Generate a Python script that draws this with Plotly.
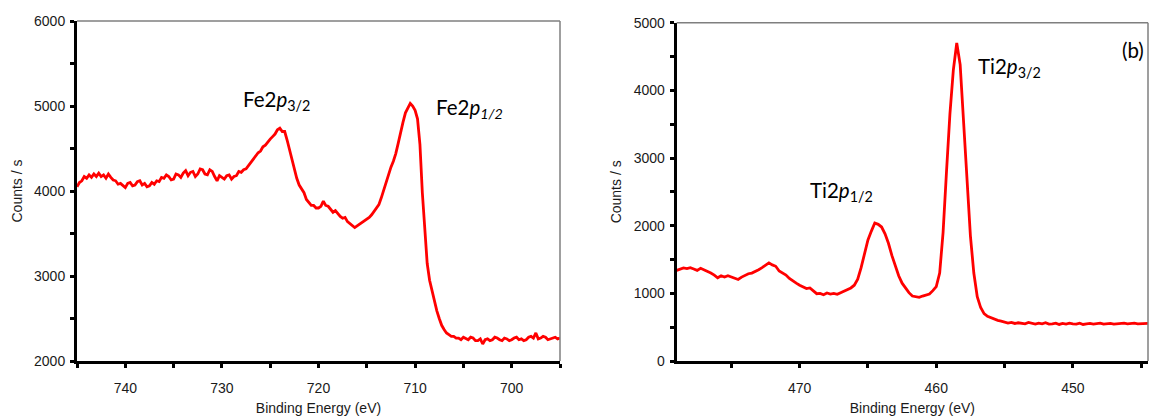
import plotly.graph_objects as go

# ---------------- data ----------------
fe_start, fe_step = 745.0, -0.25
fe_counts = [
    4050, 4100, 4120, 4170,  # 745
    4150, 4190, 4160, 4200,  # 744
    4170, 4210, 4170, 4190,  # 743
    4150, 4200, 4160, 4130,  # 742
    4120, 4080, 4090, 4060,  # 741
    4040, 4090, 4100, 4060,  # 740
    4070, 4110, 4120, 4070,  # 739
    4090, 4050, 4060, 4100,  # 738
    4080, 4120, 4110, 4160,  # 737
    4150, 4190, 4170, 4130,  # 736
    4140, 4200, 4190, 4160,  # 735
    4210, 4240, 4180, 4220,  # 734
    4230, 4170, 4200, 4260,  # 733
    4250, 4200, 4190, 4250,  # 732
    4230, 4170, 4120, 4180,  # 731
    4160, 4140, 4180, 4190,  # 730
    4140, 4170, 4180, 4230,  # 729
    4220, 4250, 4260, 4300,  # 728
    4330, 4380, 4410, 4450,  # 727
    4470, 4520, 4540, 4580,  # 726
    4610, 4640, 4670, 4720,  # 725
    4740, 4700, 4700, 4600,  # 724
    4480, 4360, 4240, 4150,  # 723
    4070, 4020, 3980, 3900,  # 722
    3860, 3830, 3830, 3800,  # 721
    3800, 3820, 3880, 3830,  # 720
    3820, 3790, 3750, 3770,  # 719
    3730, 3700, 3680, 3690,  # 718
    3640, 3620, 3600, 3570,  # 717
    3590, 3610, 3630, 3640,  # 716
    3660, 3690, 3720, 3760,  # 715
    3790, 3840, 3920, 4010,  # 714
    4120, 4190, 4280, 4350,  # 713
    4440, 4560, 4700, 4810,  # 712
    4920, 4980, 5030, 5000,  # 711
    4950, 4850, 4550, 3980,  # 710
    3500, 3150, 2950, 2830,  # 709
    2700, 2590, 2500, 2420,  # 708
    2370, 2330, 2310, 2290,  # 707
    2290, 2270, 2270, 2250,  # 706
    2280, 2260, 2250, 2280,  # 705
    2270, 2240, 2240, 2260,  # 704
    2200, 2250, 2260, 2240,  # 703
    2250, 2280, 2270, 2250,  # 702
    2240, 2270, 2260, 2240,  # 701
    2250, 2270, 2280, 2250,  # 700
    2260, 2240, 2250, 2280,  # 699
    2290, 2270, 2330, 2260,  # 698
    2270, 2290, 2280, 2250,  # 697
    2260, 2270, 2280, 2260,  # 696
    2270,                    # 695
]
fe_energy = [fe_start + fe_step * i for i in range(len(fe_counts))]

ti_start, ti_step = 479.0, -0.25
ti_counts = [
    1340, 1360, 1375, 1365,  # 479
    1380, 1360, 1340, 1370,  # 478
    1350, 1320, 1300, 1270,  # 477
    1230, 1260, 1240, 1260,  # 476
    1240, 1230, 1205, 1240,  # 475
    1270, 1290, 1300, 1320,  # 474
    1350, 1380, 1420, 1450,  # 473
    1420, 1400, 1330, 1300,  # 472
    1270, 1220, 1180, 1150,  # 471
    1120, 1090, 1070, 1080,  # 470
    1030, 995, 1000, 980,    # 469
    1005, 990, 1000, 985,    # 468
    1010, 1030, 1060, 1080,  # 467
    1120, 1210, 1380, 1600,  # 466
    1790, 1920, 2040, 2020,  # 465
    1980, 1880, 1740, 1560,  # 464
    1400, 1260, 1150, 1070,  # 463
    1010, 960, 950, 940,     # 462
    960, 975, 990, 1040,     # 461
    1100, 1300, 1900, 2800,  # 460
    3650, 4300, 4700, 4380,  # 459
    3500, 2600, 1850, 1300,  # 458
    950, 790, 700, 660,      # 457
    640, 610, 600, 590,      # 456
    580, 560, 570, 555,      # 455
    565, 560, 550, 570,      # 454
    555, 545, 560, 550,      # 453
    565, 545, 550, 560,      # 452
    540, 555, 545, 560,      # 451
    550, 545, 560, 540,      # 450
    550, 555, 545, 550,      # 449
    560, 545, 550, 555,      # 448
    545, 550, 555, 560,      # 447
    550, 555, 560, 550,      # 446
    555, 560, 555,           # 445
]
ti_energy = [ti_start + ti_step * i for i in range(len(ti_counts))]

# ---------------- figure ----------------
W, H = 1149, 418
RED = "#ff0000"
TXT = "#1a1a1a"
AX_FONT = dict(family="Liberation Sans, Arial, sans-serif", size=14, color=TXT)
LBL_FONT = dict(family="Lato, Noto Sans, sans-serif", size=20.5, color="#000000")

fig = go.Figure()
fig.add_trace(go.Scatter(x=fe_energy, y=fe_counts, mode="lines",
                         line=dict(color=RED, width=2.8), xaxis="x", yaxis="y",
                         showlegend=False, hoverinfo="skip"))
fig.add_trace(go.Scatter(x=ti_energy, y=ti_counts, mode="lines",
                         line=dict(color=RED, width=2.8), xaxis="x2", yaxis="y2",
                         showlegend=False, hoverinfo="skip"))

ydom_l = [1 - 361 / H, 1 - 21 / H]
ydom_r = [1 - 361 / H, 1 - 22.7 / H]
xdom_l = [77 / W, 560 / W]
xdom_r = [676.7 / W, 1148 / W]

tick_style = dict(ticklen=4, tickwidth=3, tickcolor="black")
common = dict(showgrid=False, zeroline=False, showline=True, linecolor="black",
              linewidth=3, ticks="outside", tickfont=AX_FONT, automargin=False,
              **tick_style)
over = dict(showgrid=False, zeroline=False, showline=False, ticks="inside",
            showticklabels=False, automargin=False, **tick_style)

fig.update_layout(
    width=W, height=H, margin=dict(l=0, r=0, t=0, b=0, autoexpand=False),
    paper_bgcolor="white", plot_bgcolor="white",
    xaxis=dict(domain=xdom_l, range=[745, 695], anchor="y",
               tick0=700, dtick=10, ticklabelstandoff=8,
               minor=dict(dtick=5, tick0=700, ticks="outside", **tick_style),
               title=dict(text="Binding Energy (eV)", font=AX_FONT, standoff=9),
               **common),
    yaxis=dict(domain=ydom_l, range=[2000, 6000], anchor="x",
               tick0=2000, dtick=1000, ticklabelstandoff=2,
               minor=dict(dtick=500, tick0=2000, ticks="outside", **tick_style),
               title=dict(text="Counts / s", font=AX_FONT, standoff=9),
               **common),
    xaxis2=dict(domain=xdom_r, range=[479, 444.5], anchor="y2",
                tick0=450, dtick=10, ticklabelstandoff=8,
                minor=dict(dtick=5, tick0=450, ticks="outside", **tick_style),
                title=dict(text="Binding Energy (eV)", font=AX_FONT, standoff=9),
                **common),
    yaxis2=dict(domain=ydom_r, range=[0, 5000], anchor="x2",
                tick0=0, dtick=1000, ticklabelstandoff=2,
                minor=dict(dtick=500, tick0=0, ticks="outside", **tick_style),
                title=dict(text="Counts / s", font=AX_FONT, standoff=9),
                **common),
    xaxis3=dict(overlaying="x", anchor="y", range=[745, 695], tick0=700, dtick=5, **over),
    yaxis3=dict(overlaying="y", anchor="x", range=[2000, 6000], tick0=2000, dtick=500, **over),
    xaxis4=dict(overlaying="x2", anchor="y2", range=[479, 444.5], tick0=450, dtick=5, **over),
    yaxis4=dict(overlaying="y2", anchor="x2", range=[0, 5000], tick0=0, dtick=500, **over),
)

# thin grey top/right frame
for xr, yr in (("x", "y"), ("x2", "y2")):
    fig.add_shape(type="line", xref=f"{xr} domain", yref=f"{yr} domain",
                  x0=0, x1=1, y0=1, y1=1, line=dict(color="#7f7f7f", width=1.5))
    fig.add_shape(type="line", xref=f"{xr} domain", yref=f"{yr} domain",
                  x0=1, x1=1, y0=0, y1=1, line=dict(color="#7f7f7f", width=1.5))

annots = [
    dict(x=727.9, y=5070, xref="x", yref="y", text="Fe2<i>p</i><sub>3/2</sub>"),
    dict(x=707.9, y=4976, xref="x", yref="y", text="Fe2<i>p<sub>1/2</sub></i>"),
    dict(x=469.33, y=2512, xref="x2", yref="y2", text="Ti2<i>p</i><sub>1/2</sub>"),
    dict(x=457.03, y=4345, xref="x2", yref="y2", text="Ti2<i>p</i><sub>3/2</sub>"),
    dict(x=446.5, y=4597, xref="x2", yref="y2", text="(b)"),
]
for a in annots:
    fig.add_annotation(showarrow=False, xanchor="left", yanchor="middle",
                       font=LBL_FONT, borderpad=0, **a)

fig.write_html(
    "out.html",
    config={"displayModeBar": False},
    post_script="document.body.style.margin='0';document.body.style.overflow='hidden';",
)
